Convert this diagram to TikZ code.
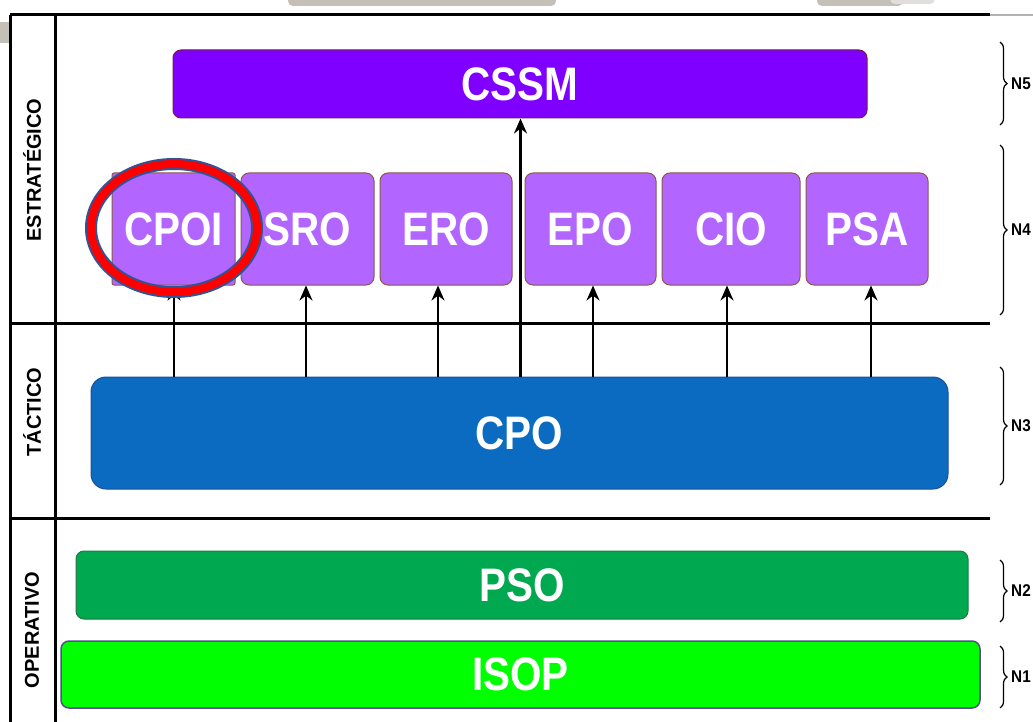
\documentclass[tikz,border=0pt]{standalone}
\usepackage{fontspec}
\setmainfont{Liberation Sans}
\usetikzlibrary{arrows.meta,decorations.pathreplacing}
\definecolor{cssmc}{HTML}{8000FF}
\definecolor{lilac}{HTML}{B266FF}
\definecolor{lilacedge}{HTML}{8A5A48}
\definecolor{cssmedge}{HTML}{7A1A3A}
\definecolor{cpoc}{HTML}{0A6BC0}
\definecolor{cpoedge}{HTML}{1F4E9A}
\definecolor{psoc}{HTML}{00A850}
\definecolor{psoedge}{HTML}{1E7A45}
\definecolor{isopc}{HTML}{00FF00}
\definecolor{isopedge}{HTML}{5B4A9A}
\definecolor{artgray}{HTML}{C4C0B8}
\definecolor{ellblue}{HTML}{2F5597}
\newcommand{\bx}[1]{\scalebox{0.86}[1]{#1}}
\newcommand{\nx}[1]{\scalebox{0.9}[1]{#1}}
\begin{document}
\begin{tikzpicture}[x=1pt,y=-1pt,
  boxtext/.style={font=\bfseries\fontsize{47}{47}\selectfont, text=white, inner sep=0pt},
  lvl/.style={boxtext, draw, line width=1pt, rounded corners=8pt},
  conn/.style={line width=2.2pt, -{Stealth[length=15pt,width=13pt]}},
  frameline/.style={line width=3pt, black},
  side/.style={font=\bfseries\fontsize{20}{20}\selectfont, rotate=90, inner sep=0pt},
  lvlbrace/.style={decorate, decoration={brace, amplitude=7pt}, line width=1.2pt},
  nlab/.style={font=\bfseries\fontsize{17}{17}\selectfont, anchor=west, inner sep=0pt}]
\useasboundingbox (0,0) rectangle (1033,722);
\clip (0,0) rectangle (1033,722);
\fill[white] (0,0) rectangle (1033,722);
% screenshot artefacts
\fill[artgray, rounded corners=5pt] (288,-8) rectangle (556,6);
\fill[artgray, rounded corners=5pt] (817,-8) rectangle (903,6);
\fill[artgray!50, rounded corners=5pt] (890,-8) rectangle (935,4);
\fill[artgray] (-5,22) rectangle (9,43);
% frame
\draw[frameline] (10,15) -- (990,15);
\draw[gray!60, line width=2pt] (990,15) -- (1033,15);
\draw[frameline] (10,15) -- (10,722);
\draw[frameline] (55,15) -- (55,722);
\draw[frameline] (10,323) -- (990,323);
\draw[frameline] (10,518) -- (990,518);
% side labels
\node[side] (estr) at (32,170) {ESTRATÉGICO};
\node[side] (tact) at (32,412) {TÁCTICO};
\node[side] (oper) at (32,630) {OPERATIVO};
% boxes
\node[lvl, fill=cssmc, draw=cssmedge, minimum width=694pt, minimum height=68pt] (cssm) at (520,84) {\bx{CSSM}};
\node[lvl, fill=lilac, draw=lilacedge, rounded corners=2pt, minimum width=123pt, minimum height=112pt] (cpoi) at (173.5,229) {\bx{CPOI}};
\node[lvl, fill=lilac, draw=lilacedge, minimum width=133pt, minimum height=112pt] (sro) at (307.5,229) {\bx{SRO}};
\node[lvl, fill=lilac, draw=lilacedge, minimum width=132pt, minimum height=112pt] (ero) at (446,229) {\bx{ERO}};
\node[lvl, fill=lilac, draw=lilacedge, minimum width=131pt, minimum height=112pt] (epo) at (590.5,229) {\bx{EPO}};
\node[lvl, fill=lilac, draw=lilacedge, minimum width=138pt, minimum height=112pt] (cio) at (731,229) {\bx{CIO}};
\node[lvl, fill=lilac, draw=lilacedge, minimum width=122pt, minimum height=112pt] (psa) at (867,229) {\bx{PSA}};
\node[lvl, fill=cpoc, draw=cpoedge, rounded corners=15pt, minimum width=857pt, minimum height=112pt] (cpo) at (519.5,433) {\bx{CPO}};
\node[lvl, fill=psoc, draw=psoedge, minimum width=892pt, minimum height=68pt] (pso) at (522,585) {\bx{PSO}};
\node[lvl, fill=isopc, draw=isopedge, line width=1.5pt, minimum width=919pt, minimum height=67pt] (isop) at (520.5,674.5) {\bx{ISOP}};
% connectors
\draw[conn] (174,0 |- cpo.north) -- (174,0 |- cpoi.south);
\draw[conn] (306,0 |- cpo.north) -- (306,0 |- sro.south);
\draw[conn] (438,0 |- cpo.north) -- (438,0 |- ero.south);
\draw[conn] (520.5,0 |- cpo.north) -- (520.5,0 |- cssm.south);
\draw[conn] (593,0 |- cpo.north) -- (593,0 |- epo.south);
\draw[conn] (727,0 |- cpo.north) -- (727,0 |- cio.south);
\draw[conn] (871,0 |- cpo.north) -- (871,0 |- psa.south);
% highlight ellipse
\draw[ellblue, line width=12pt] (174,228) ellipse [x radius=83, y radius=64];
\draw[red, line width=8pt] (174,228) ellipse [x radius=83, y radius=64];
% level braces
\draw[lvlbrace] (1000,42) -- (1000,125);
\draw[lvlbrace] (1000,145) -- (1000,315);
\draw[lvlbrace] (1000,367) -- (1000,485);
\draw[lvlbrace] (1000,560) -- (1000,622);
\draw[lvlbrace] (1000,646) -- (1000,708);
\node[nlab] (n5) at (1011,84) {\nx{N5}};
\node[nlab] (n4) at (1011,230) {\nx{N4}};
\node[nlab] (n3) at (1011,426) {\nx{N3}};
\node[nlab] (n2) at (1011,591) {\nx{N2}};
\node[nlab] (n1) at (1011,677) {\nx{N1}};
\end{tikzpicture}
\end{document}
